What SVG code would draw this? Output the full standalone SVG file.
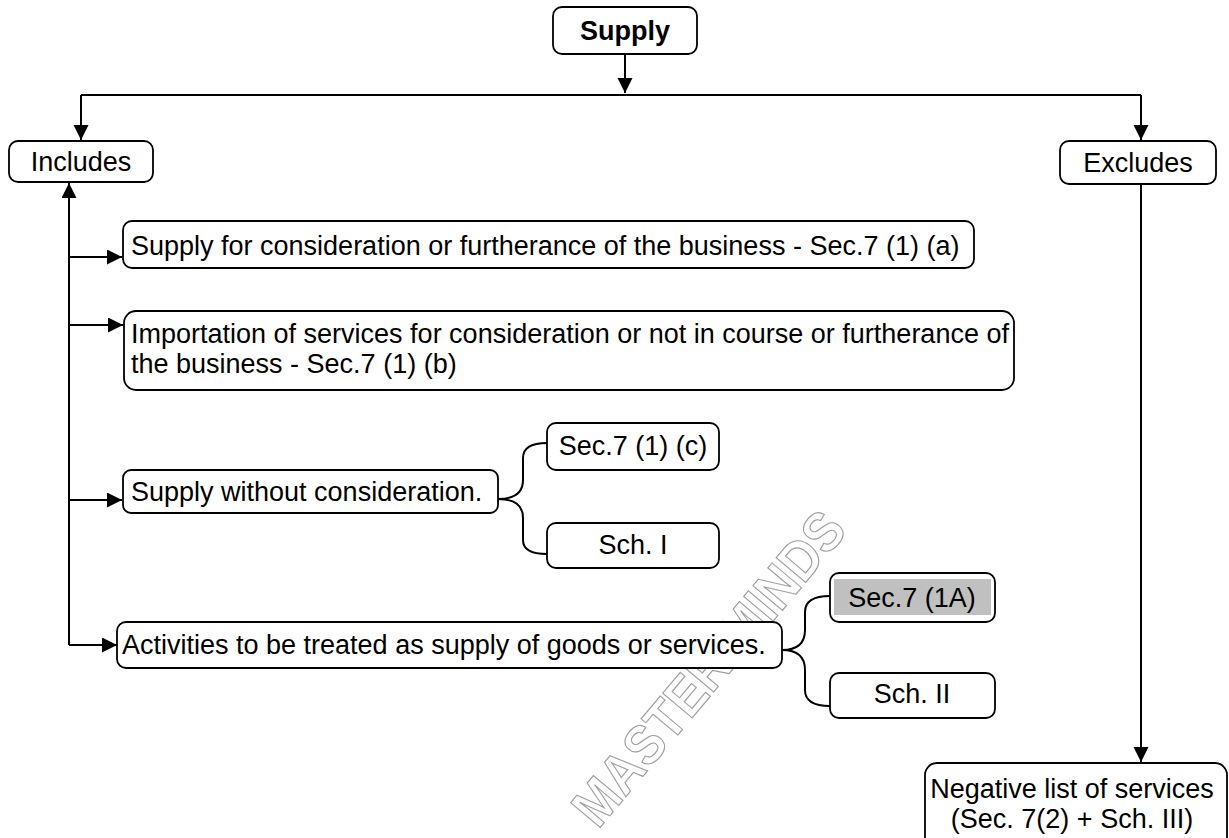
<svg xmlns="http://www.w3.org/2000/svg" width="1229" height="838" viewBox="0 0 1229 838">
<defs>
<marker id="ah" markerUnits="userSpaceOnUse" markerWidth="16" markerHeight="16" refX="15" refY="7.5" orient="auto">
<path d="M0,0 L15,7.5 L0,15 z" fill="#000"/>
</marker>
<style>
.box{fill:#fff;stroke:#000;stroke-width:1.8}
.t{font-family:"Liberation Sans",Arial,sans-serif;font-size:27px;fill:#000}
.c{text-anchor:middle}
.ln{fill:none;stroke:#000;stroke-width:2}
.wm{font-family:"Liberation Sans",Arial,sans-serif;font-size:56px;font-weight:bold;fill:none;stroke:#a0a0a0;stroke-width:1.2}
</style>
</defs>
<rect width="1229" height="838" fill="#fff"/>
<text class="wm" x="0" y="0" textLength="390" lengthAdjust="spacingAndGlyphs" transform="translate(598,830) rotate(-50)">MASTER MINDS</text>
<g id="connectors">
<path class="ln" d="M625,54 V93" marker-end="url(#ah)"/>
<path class="ln" d="M81,95 H1141"/>
<path class="ln" d="M81,95 V140" marker-end="url(#ah)"/>
<path class="ln" d="M1141,95 V140" marker-end="url(#ah)"/>
<path class="ln" d="M69,645 V183" marker-end="url(#ah)"/>
<path class="ln" d="M69,257 H122" marker-end="url(#ah)"/>
<path class="ln" d="M69,325 H123" marker-end="url(#ah)"/>
<path class="ln" d="M69,500 H122" marker-end="url(#ah)"/>
<path class="ln" d="M69,645 H117" marker-end="url(#ah)"/>
<path class="ln" d="M1141,184 V762" marker-end="url(#ah)"/>
<path class="ln" d="M498,499 Q523,499 523,480 V458 Q523,443 547,443"/>
<path class="ln" d="M498,499 Q523,499 523,518 V540 Q523,554 547,554"/>
<path class="ln" d="M782,650 Q805,650 805,630 V612 Q805,596 830,596"/>
<path class="ln" d="M782,650 Q805,650 805,670 V690 Q805,706 830,706"/>
</g>
<g id="supply">
<rect class="box" x="553" y="7" width="144" height="47" rx="9"/>
<text class="t c" x="625" y="40" font-weight="bold">Supply</text>
</g>
<g id="includes">
<rect class="box" x="9" y="141" width="144" height="41" rx="9"/>
<text class="t c" x="81" y="171">Includes</text>
</g>
<g id="excludes">
<rect class="box" x="1060" y="141" width="156" height="43" rx="9"/>
<text class="t c" x="1138" y="172">Excludes</text>
</g>
<g id="inc1">
<rect class="box" x="123" y="221" width="851" height="47" rx="9"/>
<text class="t" x="131" y="255">Supply for consideration or furtherance of the business - Sec.7 (1) (a)</text>
</g>
<g id="inc2">
<rect class="box" x="124" y="311" width="890" height="79" rx="12"/>
<text class="t" x="131" y="343">Importation of services for consideration or not in course or furtherance of</text>
<text class="t" x="131" y="373">the business - Sec.7 (1) (b)</text>
</g>
<g id="inc3">
<rect class="box" x="123" y="470" width="375" height="43" rx="8"/>
<text class="t" x="131" y="501">Supply without consideration.</text>
</g>
<g id="sec71c">
<rect class="box" x="547" y="423" width="172" height="47" rx="9"/>
<text class="t c" x="633" y="455">Sec.7 (1) (c)</text>
</g>
<g id="sch1">
<rect class="box" x="547" y="523" width="172" height="45" rx="9"/>
<text class="t c" x="633" y="554">Sch. I</text>
</g>
<g id="inc4">
<rect class="box" x="117" y="622" width="665" height="46" rx="9"/>
<text class="t" x="122" y="654">Activities to be treated as supply of goods or services.</text>
</g>
<g id="sec71a">
<rect class="box" x="830" y="573" width="165" height="49" rx="9"/>
<rect x="834" y="579" width="157" height="36" fill="#c0c0c0"/>
<text class="t c" x="912" y="607">Sec.7 (1A)</text>
</g>
<g id="sch2">
<rect class="box" x="830" y="673" width="165" height="45" rx="9"/>
<text class="t c" x="912" y="703">Sch. II</text>
</g>
<g id="negative">
<rect class="box" x="925" y="763" width="302" height="95" rx="12"/>
<text class="t c" x="1072" y="798">Negative list of services</text>
<text class="t c" x="1072" y="828">(Sec. 7(2) + Sch. III)</text>
</g>
</svg>
